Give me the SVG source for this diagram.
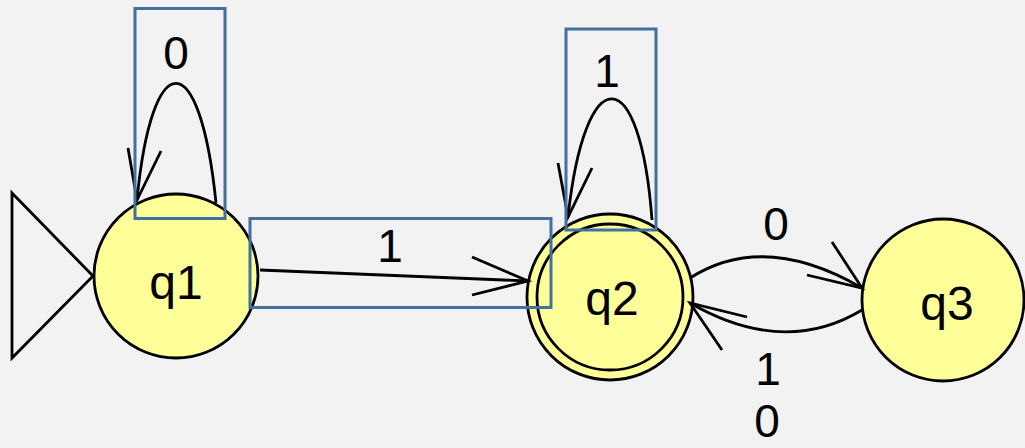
<svg xmlns="http://www.w3.org/2000/svg" width="1025" height="448" viewBox="0 0 1025 448">
<style>
.st{fill:#ffff99;stroke:#000;stroke-width:2.8}
.lb{font-family:"Liberation Sans",Arial,sans-serif;font-size:48px;fill:#000;text-anchor:middle}
.el{font-family:"Liberation Sans",Arial,sans-serif;font-size:46px;fill:#000;text-anchor:middle}
.cn{fill:none;stroke:#000;stroke-width:2.8;stroke-linejoin:miter}
.hl{fill:none;stroke:#41719c;stroke-width:3}
</style>
<rect width="1025" height="448" fill="#f2f2f2"/>
<g id="start">
<polygon points="12,193 93,276 12,358" fill="none" stroke="#000" stroke-width="2.8"/>
</g>
<g id="q1">
<circle class="st" cx="176" cy="276" r="82"/>
<text class="lb" x="176" y="299">q1</text>
</g>
<g id="q2">
<circle class="st" cx="610" cy="297" r="83"/>
<circle fill="none" stroke="#000" stroke-width="2.8" cx="610" cy="297" r="73"/>
<text class="lb" x="612" y="315">q2</text>
</g>
<g id="q3">
<circle class="st" cx="943" cy="300" r="81"/>
<text class="lb" x="947" y="320">q3</text>
</g>
<g id="connectors">
<path class="cn" d="M216 203 C200 44,152 44,137 200"/>
<path class="cn" d="M128 148 L137 200 L161 151"/>
<path class="cn" d="M652 220 C640 59,585 59,568 217"/>
<path class="cn" d="M558 163 L568 217 L592 168"/>
<path class="cn" d="M260 270 L528 281"/>
<path class="cn" d="M472 257 L528 281 L472 295"/>
<path class="cn" d="M690 278 Q764 231,862 288"/>
<path class="cn" d="M832 242 L862 288 L807 275"/>
<path class="cn" d="M862 310 Q784 357,690 303"/>
<path class="cn" d="M747 317 L690 303 L722 350"/>
</g>
<g id="labels">
<text class="el" x="176" y="69">0</text>
<text class="el" x="607" y="87">1</text>
<text class="el" x="390" y="262">1</text>
<text class="el" x="776" y="240">0</text>
<text class="el" x="768" y="385">1</text>
<text class="el" x="767" y="437">0</text>
</g>
<g id="highlights">
<rect class="hl" x="135" y="8.5" width="90" height="210"/>
<rect class="hl" x="566" y="29" width="90" height="201"/>
<rect class="hl" x="250" y="218.5" width="301" height="89"/>
</g>
</svg>
